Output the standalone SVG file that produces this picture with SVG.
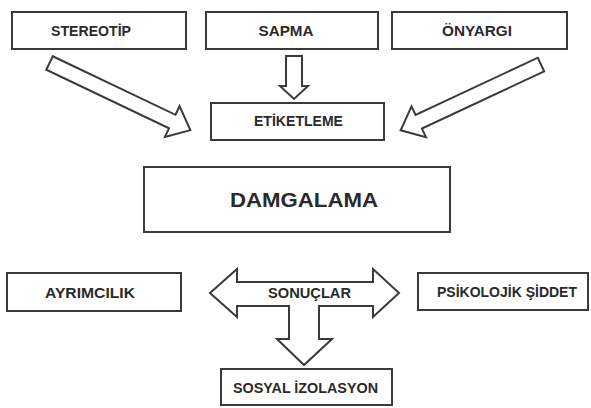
<svg xmlns="http://www.w3.org/2000/svg" width="591" height="408" viewBox="0 0 591 408">
<style>
.box{fill:#fff;stroke:#3a3a3a;stroke-width:2}
.arr{fill:#fff;stroke:#3a3a3a;stroke-width:2;stroke-linejoin:miter}
text{font-family:"Liberation Sans",Arial,sans-serif;font-weight:bold;fill:#2a2a2a;text-anchor:middle;dominant-baseline:central}
.s{font-size:14px}
.l{font-size:21px}
</style>
<rect width="591" height="408" fill="#fff"/>
<g id="stereotip"><rect class="box" x="12" y="12" width="174" height="37"/><text class="s" x="91" y="30.5" textLength="80" lengthAdjust="spacingAndGlyphs">STEREOTİP</text></g>
<g id="sapma"><rect class="box" x="206" y="12" width="172" height="37"/><text class="s" x="286" y="30.5" textLength="55" lengthAdjust="spacingAndGlyphs">SAPMA</text></g>
<g id="onyargi"><rect class="box" x="392" y="12" width="175" height="37"/><text class="s" x="477" y="30.5" textLength="70" lengthAdjust="spacingAndGlyphs">ÖNYARGI</text></g>
<g id="etiketleme"><rect class="box" x="211" y="103" width="173" height="37"/><text class="s" x="298.5" y="121" textLength="89" lengthAdjust="spacingAndGlyphs">ETİKETLEME</text></g>
<g id="damgalama"><rect class="box" x="144" y="167" width="306" height="65"/><text class="l" x="304" y="199.5" textLength="148" lengthAdjust="spacingAndGlyphs">DAMGALAMA</text></g>
<g id="ayrimcilik"><rect class="box" x="7" y="273" width="174" height="38"/><text class="s" x="90" y="293" textLength="90" lengthAdjust="spacingAndGlyphs">AYRIMCILIK</text></g>
<g id="psikolojik"><rect class="box" x="418" y="273" width="170" height="37"/><text class="s" x="507" y="292" textLength="140" lengthAdjust="spacingAndGlyphs">PSİKOLOJİK ŞİDDET</text></g>
<g id="sosyal"><rect class="box" x="221" y="369" width="171" height="36"/><text class="s" x="305.5" y="387.5" textLength="145" lengthAdjust="spacingAndGlyphs">SOSYAL İZOLASYON</text></g>
<g id="connectors">
<polygon class="arr" transform="translate(49.5,63) rotate(25.5)" points="0,-7.5 136,-7.5 136,-17 156,0 136,17 136,7.5 0,7.5"/>
<polygon class="arr" transform="translate(541,64.5) rotate(154.9)" points="0,-7.5 135,-7.5 135,-17 155,0 135,17 135,7.5 0,7.5"/>
<polygon class="arr" points="286,56 302,56 302,86 308,86 294,99 280,86 286,86"/>
<g id="sonuclar">
<polygon class="arr" points="210,293 237,269 237,282 373,282 373,269 399,293 373,317 373,306 319,306 319,339 332,339 304,365 277,339 289,339 289,306 237,306 237,317"/>
<text class="s" x="309.5" y="292.5" textLength="83" lengthAdjust="spacingAndGlyphs">SONUÇLAR</text>
</g>
</g>
</svg>
